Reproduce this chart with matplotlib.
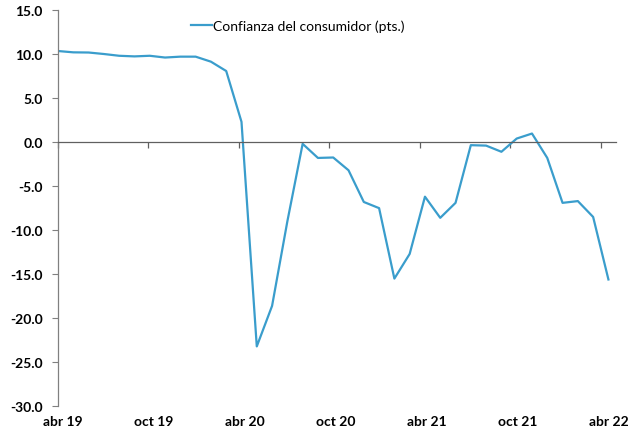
import matplotlib
matplotlib.use("Agg")
import matplotlib.pyplot as plt
from matplotlib.transforms import blended_transform_factory

# Confianza del consumidor, mensual abr 19 - abr 22
values = [10.34, 10.19, 10.17, 10.0, 9.8, 9.73, 9.8, 9.6, 9.7, 9.7, 9.13, 8.07,
          2.3, -23.2, -18.6, -9.0, -0.2, -1.8, -1.75, -3.2, -6.8, -7.5, -15.5,
          -12.7, -6.2, -8.6, -6.9, -0.35, -0.4, -1.1, 0.4, 0.97, -1.8, -6.9,
          -6.7, -8.5, -15.6]
tick_labels = ["abr 19", "oct 19", "abr 20", "oct 20", "abr 21", "oct 21", "abr 22"]
yticks = [15, 10, 5, 0, -5, -10, -15, -20, -25, -30]

plt.rcParams["font.family"] = ["Lato", "DejaVu Sans"]

fig = plt.figure(figsize=(6.28, 4.39), dpi=100)
ax = fig.add_axes([0.0924, 0.0722, 0.8886, 0.9028])

x = list(range(len(values)))
ax.plot(x, values, color="#3a9dcc", lw=1.6, label="Confianza del consumidor (pts.)")

ax.set_xlim(0, 36.5)
ax.set_ylim(-30, 15)
ax.set_yticks(yticks)
ax.set_yticklabels([f"{v:.1f}" for v in yticks], fontweight="bold", fontsize=10)
ax.tick_params(axis="y", length=4, width=0.8, color="#808080", pad=7)

for s in ("top", "right"):
    ax.spines[s].set_visible(False)
ax.spines["left"].set_color("#808080")
ax.spines["left"].set_linewidth(0.9)
ax.spines["bottom"].set_position(("data", 0))
ax.spines["bottom"].set_color("#606060")
ax.spines["bottom"].set_linewidth(0.9)

# tick marks on the zero line, labels at the bottom
ax.set_xticks([i * 35.5 / 6 for i in range(7)])
ax.set_xticklabels([])
ax.tick_params(axis="x", length=4, width=0.9, color="#606060", direction="out")
trans = blended_transform_factory(ax.transData, ax.transAxes)
for i, lab in enumerate(tick_labels):
    ax.text(0.33 + i * 5.945, -0.022, lab, transform=trans, ha="center", va="top",
            fontsize=10, fontweight="bold")

ax.legend(loc="upper left", bbox_to_anchor=(0.222, 1.0), frameon=False,
          fontsize=10, handlelength=1.5, handletextpad=0.1, borderaxespad=0.25)

fig.savefig("out.png", dpi=100)
